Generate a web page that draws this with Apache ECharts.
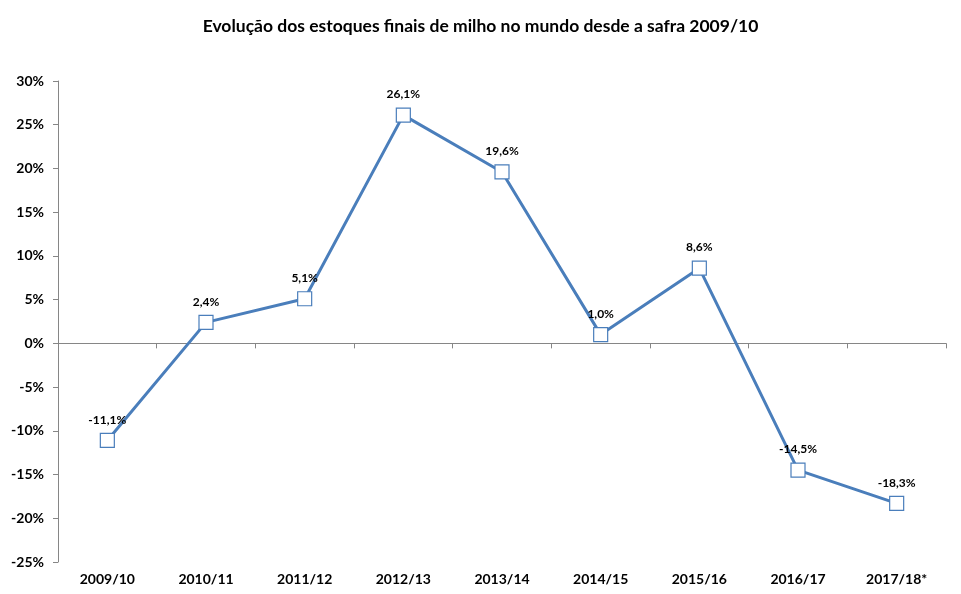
<!DOCTYPE html>
<html>
<head>
<meta charset="utf-8">
<script src="https://cdn.jsdelivr.net/npm/echarts@6/dist/echarts.min.js"></script>
<style>
  html, body { margin: 0; padding: 0; background: #fff; }
  #chart { width: 961px; height: 594px; }
</style>
</head>
<body>
<div id="chart"></div>
<script>
const titleText = 'Evolução dos estoques finais de milho no mundo desde a safra 2009/10';
const safras = ['2009/10', '2010/11', '2011/12', '2012/13', '2013/14', '2014/15', '2015/16', '2016/17', '2017/18*'];
const variacao = [-11.1, 2.4, 5.1, 26.1, 19.6, 1.0, 8.6, -14.5, -18.3];

const font = 'Lato, "Open Sans", sans-serif';
const axisGrey = '#868686';
const lineBlue = '#4a7ebb';

const chart = echarts.init(document.getElementById('chart'));

const fmt = v => v.toFixed(1).replace('.', ',') + '%';

chart.setOption({
  animation: false,
  title: {
    text: titleText,
    left: 'center',
    top: 12,
    textStyle: { fontFamily: font, fontSize: 17.5, fontWeight: 'bold', color: '#000' }
  },
  grid: { left: 58, right: 15, top: 81, bottom: 32, containLabel: false, outerBoundsMode: 'none' },
  xAxis: [{
    // axis line + ticks at 0%
    type: 'category',
    data: safras,
    boundaryGap: true,
    axisLine: { onZero: true, lineStyle: { color: axisGrey, width: 1 } },
    axisTick: { show: true, length: 5, inside: false, lineStyle: { color: axisGrey } },
    axisLabel: { show: false },
    splitLine: { show: false }
  }, {
    // category labels at the bottom of the plot
    type: 'category',
    data: safras,
    position: 'bottom',
    boundaryGap: true,
    axisLine: { show: false, onZero: false },
    axisTick: { show: false },
    axisLabel: {
      margin: 10,
      fontFamily: font,
      fontSize: 14,
      fontWeight: 'bold',
      color: '#000'
    },
    splitLine: { show: false }
  }],
  yAxis: {
    type: 'value',
    min: -25,
    max: 30,
    interval: 5,
    axisLine: { show: true, lineStyle: { color: axisGrey, width: 1 } },
    axisTick: { show: true, length: 5, lineStyle: { color: axisGrey } },
    axisLabel: {
      margin: 14,
      fontFamily: font,
      fontSize: 14,
      fontWeight: 'bold',
      color: '#000',
      formatter: v => v + '%'
    },
    splitLine: { show: false }
  },
  series: [{
    type: 'line',
    xAxisIndex: 0,
    data: variacao,
    symbol: 'rect',
    symbolSize: 14,
    itemStyle: { color: '#fff', borderColor: lineBlue, borderWidth: 1.2 },
    lineStyle: { color: lineBlue, width: 3 },
    label: {
      show: true,
      position: 'top',
      distance: 7,
      fontFamily: font,
      fontSize: 12,
      fontWeight: 'bold',
      color: '#000',
      formatter: p => fmt(p.value)
    }
  }]
});
</script>
</body>
</html>
